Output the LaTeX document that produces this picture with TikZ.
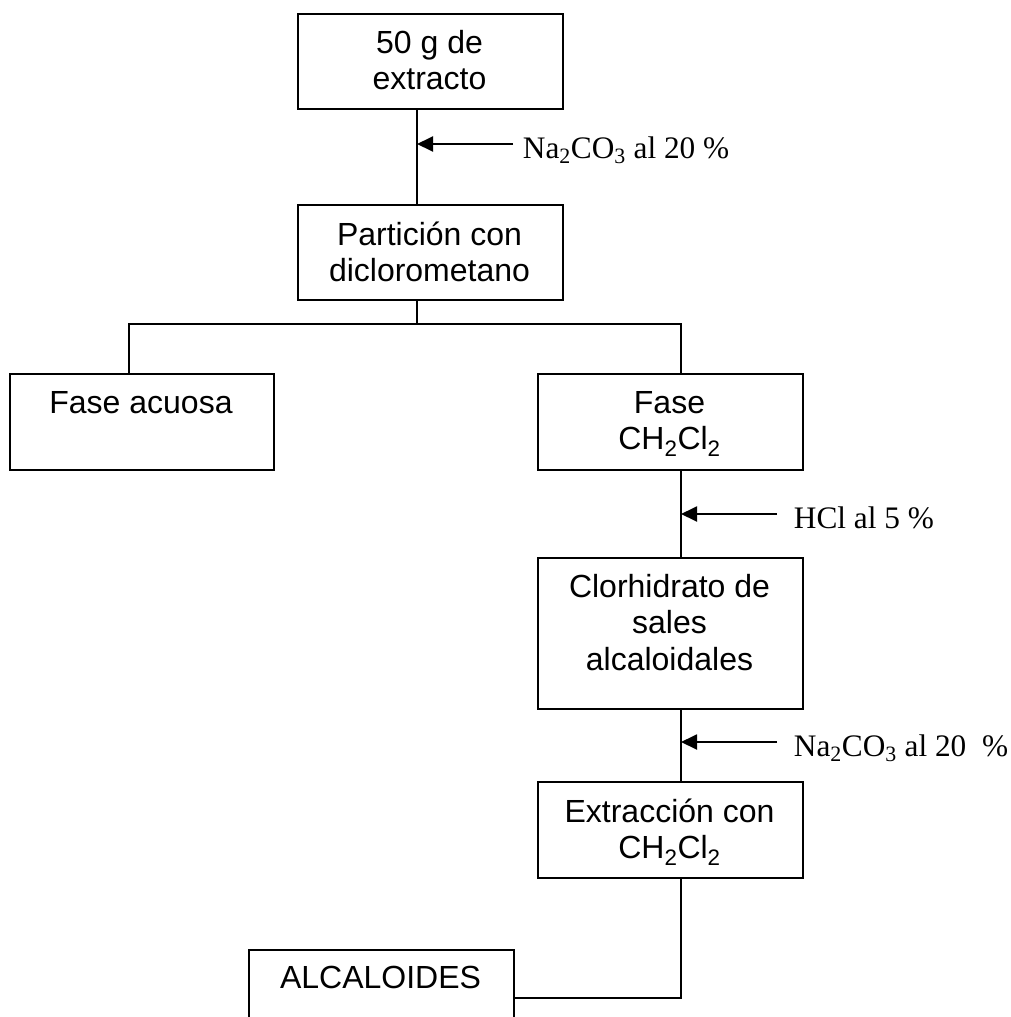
\documentclass[tikz,border=0pt]{standalone}
\usepackage{fontspec}
\setmainfont{Liberation Serif}
\newfontfamily\arial{Liberation Sans}
\usetikzlibrary{arrows.meta}
\begin{document}
\begin{tikzpicture}[x=1pt,y=-1pt,line width=1.9pt,
  box/.style={draw,rectangle,inner sep=0pt,minimum width=265pt,anchor=north west},
  boxtext/.style={anchor=base,inner sep=0pt,font={\arial\fontsize{32}{36.8}\selectfont}},
  lbl/.style={anchor=base west,inner sep=0pt,font={\fontsize{31.3}{36}\selectfont}},
  flow/.style={-{Triangle[length=16pt,width=15pt]}}]
\clip (0,0) rectangle (1011,1017);
\fill[white] (0,0) rectangle (1011,1017);
% boxes
\node[box,minimum height=95pt] (b1) at (297,13) {};
\node[box,minimum height=95pt] (b2) at (297,204) {};
\node[box,minimum width=264pt,minimum height=96pt] (b3) at (9,373) {};
\node[box,minimum height=96pt] (b4) at (537,373) {};
\node[box,minimum height=151pt] (b5) at (537,557) {};
\node[box,minimum height=96pt] (b6) at (537,781) {};
\node[box,minimum height=96pt] (b7) at (248,949) {};
% box texts
\node[boxtext] (t1) at (429.5,53) {\begin{tabular}[t]{@{}c@{}}50 g de\\extracto\end{tabular}};
\node[boxtext] (t2) at (429.5,245) {\begin{tabular}[t]{@{}c@{}}Partición con\\diclorometano\end{tabular}};
\node[boxtext] (t3) at (141,413) {Fase acuosa};
\node[boxtext] (t4) at (669.5,413) {\begin{tabular}[t]{@{}c@{}}Fase\\CH\textsubscript{2}Cl\textsubscript{2}\end{tabular}};
\node[boxtext] (t5) at (669.5,597) {\begin{tabular}[t]{@{}c@{}}Clorhidrato de\\sales\\alcaloidales\end{tabular}};
\node[boxtext] (t6) at (669.5,822) {\begin{tabular}[t]{@{}c@{}}Extracción con\\CH\textsubscript{2}Cl\textsubscript{2}\end{tabular}};
\node[boxtext] (t7) at (380.5,988) {ALCALOIDES};
% line columns
\coordinate (cA) at (417,0);
\coordinate (cL) at (129,0);
\coordinate (cR) at (681,0);
% connectors
\draw (b1.south -| cA) -- (b2.north -| cA);
\coordinate (br) at (417,324);
\draw (b2.south -| cA) -- (br);
\draw (b3.north -| cL) |- (br) -| (b4.north -| cR);
\draw (b4.south -| cR) -- (b5.north -| cR);
\draw (b5.south -| cR) -- (b6.north -| cR);
\draw (b6.south -| cR) |- (b7.east);
% reagent arrows
\coordinate (a1) at (513,144);
\coordinate (a2) at (777,514);
\coordinate (a3) at (777,742);
\draw[flow] (a1) -- (a1 -| cA);
\draw[flow] (a2) -- (a2 -| cR);
\draw[flow] (a3) -- (a3 -| cR);
\node[lbl] (l1) at (522,158) {Na\textsubscript{2}CO\textsubscript{3} al 20 \%};
\node[lbl] (l2) at (793,528) {HCl al 5 \%};
\node[lbl] (l3) at (793,756) {Na\textsubscript{2}CO\textsubscript{3} al 20\ \ \%};
\end{tikzpicture}
\end{document}
